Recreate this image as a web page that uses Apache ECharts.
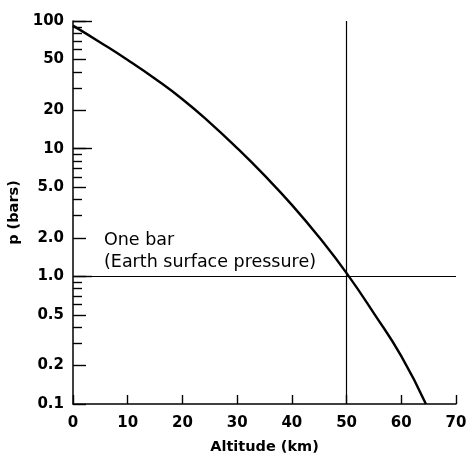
<!DOCTYPE html>
<html>
<head>
<meta charset="utf-8">
<script src="https://cdn.jsdelivr.net/npm/echarts@6/dist/echarts.min.js"></script>
<style>
  html, body { margin: 0; padding: 0; background: #fff; }
  #chart { width: 467px; height: 454px; }
</style>
</head>
<body>
<div id="chart"></div>
<script>
// 数据: 高度 (km) 与 压力 (bars)
const altitude = [0, 5, 10, 15, 20, 25, 30, 35, 40, 45, 50, 55, 60, 64.5]
const pressure = [92, 67.9, 49.5, 35.3, 24.4, 16.0, 10.1, 6.17, 3.63, 2.02, 1.06, 0.513, 0.237, 0.1]

// y轴刻度 (对数坐标)
const labelVals = [100, 50, 20, 10, 5, 2, 1, 0.5, 0.2, 0.1]
const labelTexts = ['100', '50', '20', '10', '5.0', '2.0', '1.0', '0.5', '0.2', '0.1']
const minorVals = [90, 80, 70, 60, 40, 30, 9, 8, 7, 6, 4, 3, 0.9, 0.8, 0.7, 0.6, 0.4, 0.3]
const decadeVals = [100, 10, 1]

// x轴刻度
const xTicks = [0, 10, 20, 30, 40, 50, 60, 70]

// 参考线
const refAltitude = 50
const refPressure = 1

const lg = v => Math.log10(v)
const font = 'DejaVu Sans, sans-serif'

const myChart = echarts.init(document.querySelector('#chart'))

// 只画刻度的辅助y轴
const tickAxis = (vals, len) => ({
  type: 'value',
  min: -1,
  max: 2,
  position: 'left',
  axisLine: { show: false, onZero: false },
  splitLine: { show: false },
  axisLabel: { show: false },
  axisTick: {
    show: true,
    inside: true,
    length: len,
    customValues: vals.map(lg),
    lineStyle: { color: '#000', width: 1.4 }
  }
})

const option = {
  animation: false,
  grid: { left: 73, right: 11, top: 21, bottom: 50, outerBoundsMode: 'none', containLabel: false },
  xAxis: {
    type: 'value',
    min: 0,
    max: 70,
    interval: 10,
    name: 'Altitude (km)',
    nameLocation: 'middle',
    nameGap: 36,
    nameTextStyle: { color: '#000', fontSize: 14.5, fontWeight: 'bold', fontFamily: font },
    axisLine: { onZero: false, lineStyle: { color: '#000', width: 1.5 } },
    axisTick: { inside: true, length: 9, lineStyle: { color: '#000', width: 1.4 } },
    axisLabel: {
      color: '#000',
      fontSize: 15,
      fontWeight: 'bold',
      fontFamily: font,
      margin: 12,
      customValues: xTicks
    },
    splitLine: { show: false }
  },
  yAxis: [
    {
      type: 'value',
      min: -1,
      max: 2,
      name: 'p (bars)',
      nameLocation: 'middle',
      nameGap: 51,
      nameTextStyle: { color: '#000', fontSize: 14.5, fontWeight: 'bold', fontFamily: font },
      axisLine: { show: true, onZero: false, lineStyle: { color: '#000', width: 1.5 } },
      axisTick: {
        inside: true,
        length: 13,
        customValues: labelVals.map(lg),
        lineStyle: { color: '#000', width: 1.4 }
      },
      axisLabel: {
        color: '#000',
        fontSize: 15,
        fontWeight: 'bold',
        fontFamily: font,
        margin: 9,
        customValues: labelVals.map(lg),
        formatter: v => {
          const i = labelVals.findIndex(item => Math.abs(lg(item) - v) < 1e-6)
          return i >= 0 ? labelTexts[i] : ''
        }
      },
      splitLine: { show: false }
    },
    tickAxis(minorVals, 9),
    tickAxis(decadeVals, 19)
  ],
  series: [
    {
      type: 'line',
      smooth: true,
      showSymbol: false,
      yAxisIndex: 0,
      lineStyle: { color: '#000', width: 2.4 },
      data: altitude.map((a, i) => [a, lg(pressure[i])]),
      markLine: {
        silent: true,
        symbol: 'none',
        label: { show: false },
        lineStyle: { color: '#000', width: 1.2, type: 'solid' },
        data: [
          { xAxis: refAltitude },
          { yAxis: lg(refPressure) }
        ]
      }
    }
  ],
  graphic: [
    {
      type: 'text',
      left: 104,
      top: 231,
      style: { text: 'One bar', fill: '#000', fontSize: 17.5, fontFamily: font }
    },
    {
      type: 'text',
      left: 104,
      top: 253,
      style: { text: '(Earth surface pressure)', fill: '#000', fontSize: 17.5, fontFamily: font }
    }
  ]
}

myChart.setOption(option)
</script>
</body>
</html>
